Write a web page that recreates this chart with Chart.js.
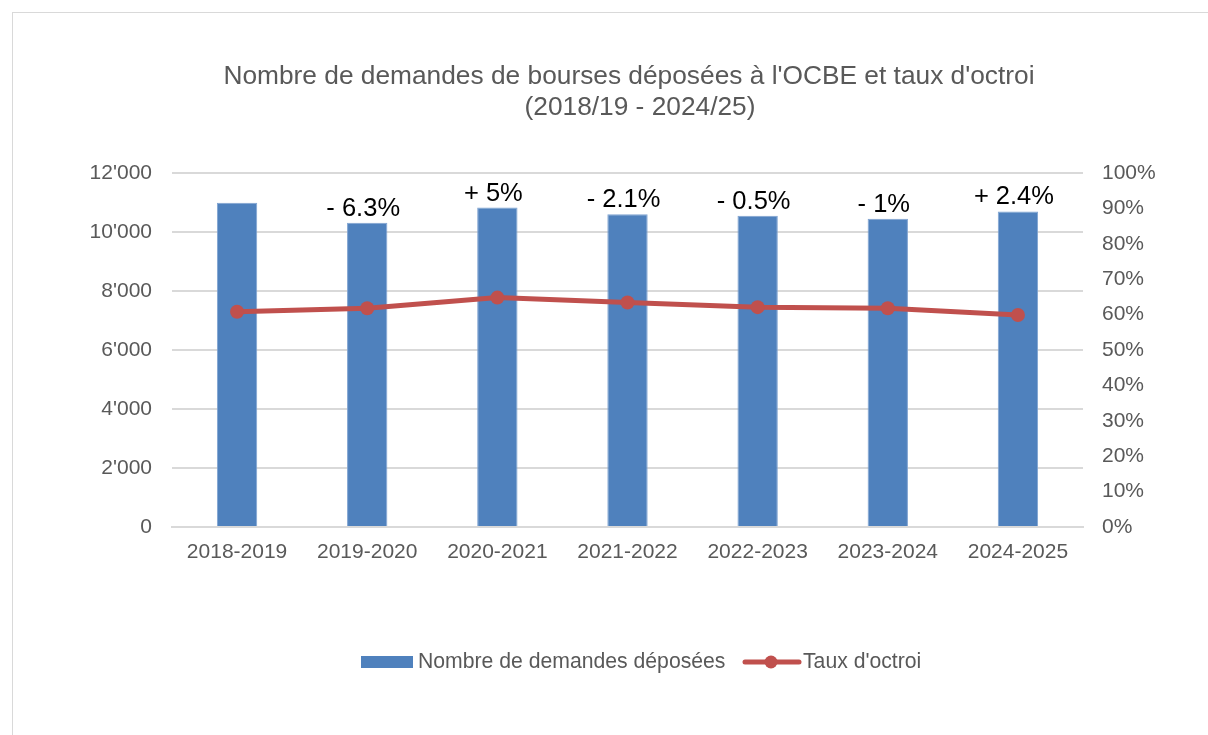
<!DOCTYPE html>
<html>
<head>
<meta charset="utf-8">
<script src="https://cdn.jsdelivr.net/npm/chart.js@4"></script>
<style>
  body { margin: 0; background: #fff; }
  #frame { position: absolute; left: 12px; top: 12px; width: 1300px; height: 800px; border: 1px solid #d9d9d9; }
  #wrap { position: absolute; left: 0; top: 0; width: 1208px; height: 735px; }
</style>
</head>
<body>
<div id="frame"></div>
<div id="wrap"><canvas id="myChart" width="1208" height="735"></canvas></div>
<script>
// donnees
const annees = ['2018-2019', '2019-2020', '2020-2021', '2021-2022', '2022-2023', '2023-2024', '2024-2025']
const demandes = [10995, 10310, 10830, 10600, 10550, 10445, 10695]
const tauxOctroi = [0.608, 0.618, 0.648, 0.634, 0.621, 0.618, 0.599]
const variations = ['', '- 6.3%', '+ 5%', '- 2.1%', '- 0.5%', '- 1%', '+ 2.4%']

const gris = '#595959'
const bleu = '#4f81bd'
const rouge = '#c0504d'
const police = '"Liberation Sans", Arial, sans-serif'

// etiquettes au-dessus des barres + titre + legende
const extras = {
  id: 'extras',
  afterDatasetsDraw(chart) {
    const ctx = chart.ctx
    const meta = chart.getDatasetMeta(0)
    ctx.save()
    ctx.font = '25.5px ' + police
    ctx.fillStyle = '#000'
    ctx.textAlign = 'center'
    ctx.textBaseline = 'alphabetic'
    meta.data.forEach((bar, i) => {
      if (variations[i]) ctx.fillText(variations[i], bar.x - 4, bar.y - 7)
    })

    // titre
    ctx.font = '26.3px ' + police
    ctx.fillStyle = gris
    ctx.textBaseline = 'middle'
    ctx.fillText("Nombre de demandes de bourses déposées à l'OCBE et taux d'octroi", 629, 77)
    ctx.fillText('(2018/19 - 2024/25)', 640, 108)

    // legende
    const yLeg = 662
    ctx.font = '21.2px ' + police
    ctx.textAlign = 'left'
    ctx.fillStyle = bleu
    ctx.fillRect(361, yLeg - 6, 52, 12)
    ctx.fillStyle = gris
    ctx.fillText(chart.data.datasets[0].label, 418, yLeg)
    ctx.strokeStyle = rouge
    ctx.lineWidth = 5
    ctx.lineCap = 'round'
    ctx.beginPath()
    ctx.moveTo(745, yLeg)
    ctx.lineTo(799, yLeg)
    ctx.stroke()
    ctx.fillStyle = rouge
    ctx.beginPath()
    ctx.arc(771, yLeg, 6.5, 0, Math.PI * 2)
    ctx.fill()
    ctx.fillStyle = gris
    ctx.fillText(chart.data.datasets[1].label, 803, yLeg)
    ctx.restore()
  },
}

const ctx = document.getElementById('myChart').getContext('2d')

const myChart = new Chart(ctx, {
  data: {
    labels: annees,
    datasets: [
      {
        type: 'bar',
        label: 'Nombre de demandes déposées',
        data: demandes,
        yAxisID: 'y',
        backgroundColor: bleu,
        borderColor: '#7fa3d1',
        borderWidth: 1,
        categoryPercentage: 1,
        barPercentage: 0.31,
        order: 2,
      },
      {
        type: 'line',
        label: "Taux d'octroi",
        data: tauxOctroi,
        yAxisID: 'y1',
        borderColor: rouge,
        backgroundColor: rouge,
        borderWidth: 5,
        pointRadius: 7,
        pointHoverRadius: 7,
        pointBorderWidth: 0,
        tension: 0,
        order: 1,
      },
    ],
  },
  options: {
    responsive: false,
    animation: false,
    layout: { padding: { top: 173, bottom: 0, left: 0, right: 0 } },
    plugins: {
      legend: { display: false },
      title: { display: false },
      tooltip: { enabled: false },
    },
    scales: {
      x: {
        grid: { display: false, drawTicks: false },
        border: { color: '#d9d9d9', width: 2 },
        ticks: { color: gris, font: { family: police, size: 21 }, padding: 13, maxRotation: 0 },
        afterFit(scale) { scale.height = 208 },
      },
      y: {
        position: 'left',
        min: 0,
        max: 12000,
        ticks: {
          stepSize: 2000,
          color: gris,
          padding: 20,
          font: { family: police, size: 21 },
          callback: (v) => String(v).replace(/\B(?=(\d{3})+(?!\d))/g, "'"),
        },
        grid: { color: '#d9d9d9', lineWidth: 2, drawTicks: false },
        border: { display: false },
        afterFit(scale) { scale.width = 172 },
      },
      y1: {
        position: 'right',
        min: 0,
        max: 1,
        ticks: {
          stepSize: 0.1,
          color: gris,
          padding: 19,
          font: { family: police, size: 21 },
          callback: (v) => Math.round(v * 100) + '%',
        },
        grid: { display: false, drawTicks: false },
        border: { display: false },
        afterFit(scale) { scale.width = 125 },
      },
    },
  },
  plugins: [extras],
})
</script>
</body>
</html>
